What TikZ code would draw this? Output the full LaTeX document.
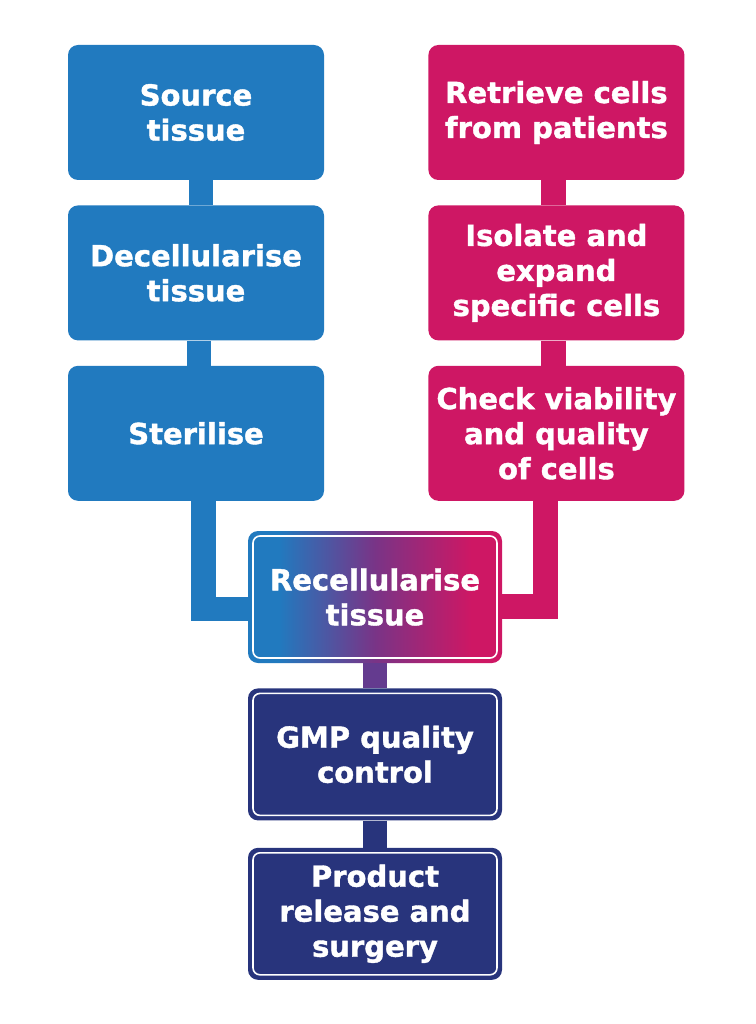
\documentclass[tikz,border=0pt]{standalone}
\usepackage{fontspec}
\setmainfont{DejaVu Sans}[BoldFeatures={FakeBold=1.3}]
\usepackage{xcolor}
\usepackage{tikz}
\usetikzlibrary{positioning}

\definecolor{tissueblue}{RGB}{33,122,191}
\definecolor{cellpink}{RGB}{206,23,100}
\definecolor{gmpnavy}{RGB}{40,52,124}
\definecolor{mixpurple}{RGB}{100,59,143}

\pgfdeclarehorizontalshading{recellshade}{100bp}{%
  color(0bp)=(tissueblue); color(31bp)=(tissueblue);
  color(50bp)=(mixpurple!80!cellpink);
  color(69bp)=(cellpink); color(100bp)=(cellpink)}

\begin{document}
\begin{tikzpicture}[%
    x=1pt,
    y=-1pt,
    node distance=25pt,
    stepbox/.style={%
      rectangle,
      rounded corners=10pt,
      minimum width=256pt,
      minimum height=135pt,
      align=center,
      text=white,
      font=\fontsize{29}{35}\selectfont\bfseries
    },
    bluebox/.style={stepbox, fill=tissueblue},
    pinkbox/.style={stepbox, fill=cellpink},
    framed/.style={%
      minimum width=254pt,
      minimum height=132pt,
      path picture={\draw[white, line width=1.6pt, rounded corners=7pt]
        ([shift={(5pt,-5pt)}]path picture bounding box.north west) rectangle
        ([shift={(-5pt,5pt)}]path picture bounding box.south east);}
    },
    mixbox/.style={stepbox, framed, shading=recellshade},
    navybox/.style={stepbox, framed, fill=gmpnavy},
    bar/.style={line width=24.5pt}
  ]
    \useasboundingbox (0,0) rectangle (755,1024);

    % tissue branch
    \node[bluebox] (source)   at (196,112.5)      {Source\\tissue};
    \node[bluebox] (decell)   [below=of source]   {Decellularise\\tissue};
    \node[bluebox] (sterile)  [below=of decell]   {Sterilise};

    % cell branch
    \node[pinkbox] (retrieve) [right=104pt of source] {Retrieve cells\\from patients};
    \node[pinkbox] (isolate)  [below=of retrieve]     {Isolate and\\expand\\specific cells};
    \node[pinkbox] (check)    [below=of isolate]      {Check viability\\and quality\\of cells};

    % joint part
    \node[mixbox]  (recell)  at (375,597)          {Recellularise\\tissue};
    \node[navybox] (gmp)     [below=of recell]     {GMP quality\\control};
    \node[navybox] (product) [below=27pt of gmp]   {Product\\release and\\surgery};

    \draw[bar, tissueblue] ([xshift=5pt]source.south) -- ([xshift=5pt]source.south |- decell.north);
    \draw[bar, tissueblue] ([xshift=3pt]decell.south) -- ([xshift=3pt]decell.south |- sterile.north);
    \draw[bar, tissueblue] ([xshift=7.5pt]sterile.south) |- ([yshift=-12pt]recell.west);

    \draw[bar, cellpink] ([xshift=-3pt]retrieve.south) -- ([xshift=-3pt]retrieve.south |- isolate.north);
    \draw[bar, cellpink] ([xshift=-3pt]isolate.south) -- ([xshift=-3pt]isolate.south |- check.north);
    \draw[bar, cellpink] ([xshift=-11pt]check.south) |- ([yshift=-9.5pt]recell.east);

    \draw[bar, mixpurple] (recell) -- (gmp);
    \draw[bar, gmpnavy] (gmp) -- (product);
\end{tikzpicture}
\end{document}
